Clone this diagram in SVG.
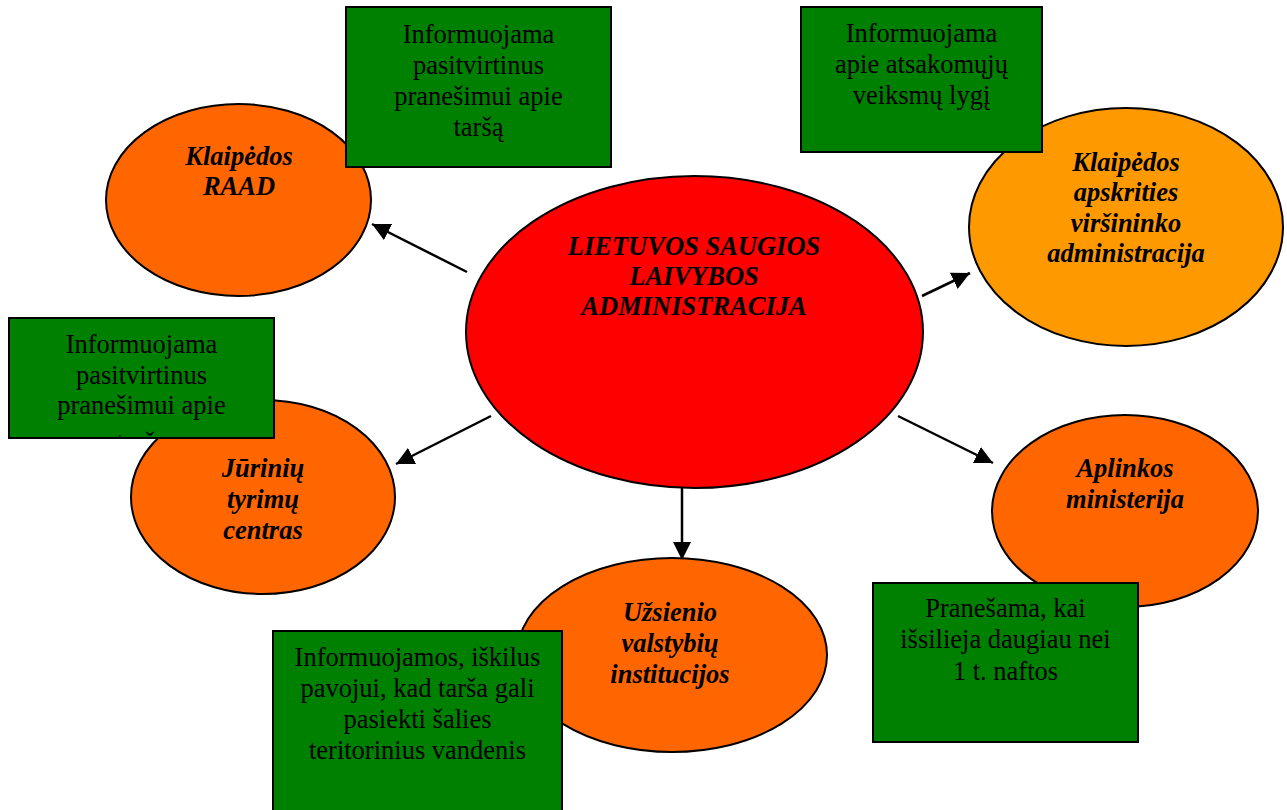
<svg xmlns="http://www.w3.org/2000/svg" width="1287" height="810" viewBox="0 0 1287 810">
<style>
.ell{stroke:#000;stroke-width:2}
.box{fill:#008000;stroke:#000;stroke-width:2}
.bt{font-family:"Liberation Serif","Times New Roman",serif;font-size:26.5px;fill:#000;text-anchor:middle}
.et{font-family:"Liberation Serif","Times New Roman",serif;font-size:26.5px;font-weight:bold;font-style:italic;fill:#000;text-anchor:middle}
.con{stroke:#000;stroke-width:2.5;fill:none;marker-end:url(#ah)}
</style>
<defs>
<marker id="ah" markerUnits="userSpaceOnUse" markerWidth="18" markerHeight="18" viewBox="0 0 16 16" refX="16" refY="8" orient="auto">
<path d="M0,0 L16,8 L0,16 Z" fill="#000"/>
</marker>
<clipPath id="clipL"><rect x="9" y="318" width="265" height="120"/></clipPath>
</defs>
<rect width="1287" height="810" fill="#fff"/>

<g id="connectors">
<line class="con" x1="467" y1="272" x2="372" y2="224"/>
<line class="con" x1="922" y1="296" x2="970" y2="273"/>
<line class="con" x1="491" y1="416" x2="396" y2="464"/>
<line class="con" x1="898" y1="416" x2="993" y2="463"/>
<line class="con" x1="682" y1="488" x2="682" y2="560"/>
</g>

<g id="center">
<ellipse class="ell" cx="694.5" cy="332" rx="228.5" ry="156" fill="#FF0000"/>
<text class="et"><tspan x="694" y="255">LIETUVOS SAUGIOS</tspan><tspan x="694" y="285">LAIVYBOS</tspan><tspan x="694" y="315">ADMINISTRACIJA</tspan></text>
</g>

<g id="raad">
<ellipse class="ell" cx="238.5" cy="200" rx="132.5" ry="96" fill="#FF6600"/>
<text class="et"><tspan x="239" y="165">Klaipėdos</tspan><tspan x="239" y="195">RAAD</tspan></text>
</g>

<g id="apskritis">
<ellipse class="ell" cx="1126" cy="227" rx="157" ry="119" fill="#FF9900"/>
<text class="et"><tspan x="1126" y="171">Klaipėdos</tspan><tspan x="1126" y="201">apskrities</tspan><tspan x="1126" y="232">viršininko</tspan><tspan x="1126" y="262">administracija</tspan></text>
</g>

<g id="jurinu">
<ellipse class="ell" cx="263" cy="497" rx="132" ry="97" fill="#FF6600"/>
<text class="et"><tspan x="263" y="477">Jūrinių</tspan><tspan x="263" y="508">tyrimų</tspan><tspan x="263" y="539">centras</tspan></text>
</g>

<g id="aplinkos">
<ellipse class="ell" cx="1125" cy="511" rx="133" ry="96" fill="#FF6600"/>
<text class="et"><tspan x="1125" y="477">Aplinkos</tspan><tspan x="1125" y="508">ministerija</tspan></text>
</g>

<g id="uzsienio">
<ellipse class="ell" cx="672" cy="655" rx="155" ry="97" fill="#FF6600"/>
<text class="et"><tspan x="670" y="621">Užsienio</tspan><tspan x="670" y="652">valstybių</tspan><tspan x="670" y="683">institucijos</tspan></text>
</g>

<g id="box-top-middle">
<rect class="box" x="346" y="7" width="265" height="160"/>
<text class="bt"><tspan x="478.5" y="43">Informuojama</tspan><tspan x="478.5" y="74">pasitvirtinus</tspan><tspan x="478.5" y="105">pranešimui apie</tspan><tspan x="478.5" y="136">taršą</tspan></text>
</g>

<g id="box-top-right">
<rect class="box" x="801" y="7" width="241" height="145"/>
<text class="bt"><tspan x="921.5" y="42">Informuojama</tspan><tspan x="921.5" y="73">apie atsakomųjų</tspan><tspan x="921.5" y="104">veiksmų lygį</tspan></text>
</g>

<g id="box-left">
<rect class="box" x="9" y="318" width="265" height="120"/>
<text class="bt" clip-path="url(#clipL)"><tspan x="141.5" y="353">Informuojama</tspan><tspan x="141.5" y="384">pasitvirtinus</tspan><tspan x="141.5" y="414">pranešimui apie</tspan><tspan x="141.5" y="451">taršą</tspan></text>
</g>

<g id="box-bottom-right">
<rect class="box" x="873" y="583" width="265" height="159"/>
<text class="bt"><tspan x="1005.5" y="617">Pranešama, kai</tspan><tspan x="1005.5" y="648">išsilieja daugiau nei</tspan><tspan x="1005.5" y="680">1 t. naftos</tspan></text>
</g>

<g id="box-bottom-left">
<rect class="box" x="273" y="631" width="289" height="190"/>
<text class="bt"><tspan x="417.5" y="666">Informuojamos, iškilus</tspan><tspan x="417.5" y="697">pavojui, kad tarša gali</tspan><tspan x="417.5" y="728">pasiekti šalies</tspan><tspan x="417.5" y="759">teritorinius vandenis</tspan></text>
</g>
</svg>
